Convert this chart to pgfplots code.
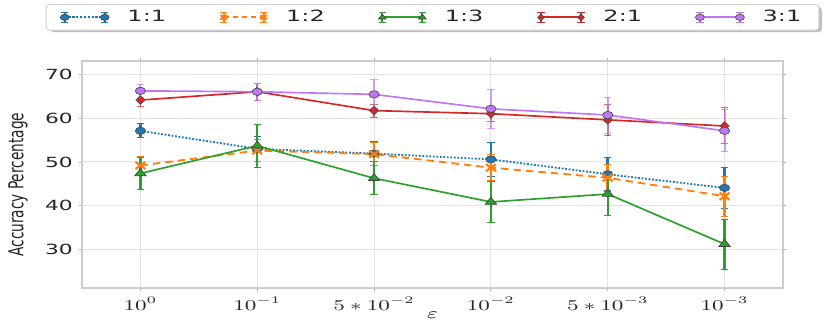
\documentclass[border=0pt]{standalone}
\usepackage{fontspec}
\setmainfont{DejaVu Sans}[FakeStretch=1.55]
\newfontfamily\labelfont{DejaVu Sans}
\usepackage{graphicx}
\usepackage{pgfplots}
\pgfplotsset{compat=1.18}

\definecolor{cblue}{HTML}{1F77B4}
\definecolor{corange}{HTML}{FF7F0E}
\definecolor{cgreen}{HTML}{2CA02C}
\definecolor{cred}{HTML}{D62728}
\definecolor{cpurple}{HTML}{BF77F6}
\definecolor{txt}{HTML}{262626}

% legend image: two markers joined by the line, with an error bar at each end
% #1 colour, #2 line style, #3 mark, #4 mark options
\pgfplotsset{
  errleg/.style n args={4}{
    legend image code/.code={
      \draw[#1, solid, line width=1.1pt] (0pt,-3.2pt) -- (0pt,3.2pt) (24pt,-3.2pt) -- (24pt,3.2pt);
      \draw[#1, solid, line width=0.6pt] (-2.2pt,-3.2pt) -- (2.2pt,-3.2pt) (-2.2pt,3.2pt) -- (2.2pt,3.2pt)
        (21.8pt,-3.2pt) -- (26.2pt,-3.2pt) (21.8pt,3.2pt) -- (26.2pt,3.2pt);
      \draw[#1, line width=1.3pt, #2] (0pt,0pt) -- (24pt,0pt);
      \draw[#1] plot[only marks, mark=#3, mark size=1.9pt, mark options={solid, xscale=1.4, #4}]
        coordinates {(0pt,0pt) (24pt,0pt)};
    }
  },
  ebars/.style 2 args={
    error bars/.cd, y dir=both, y explicit,
    error bar style={line width=#1, solid, opacity=#2},
    error mark options={rotate=90, mark size=2.2pt, line width=0.6pt, solid, opacity=#2},
  },
}

\begin{document}
\begin{tikzpicture}
\useasboundingbox (-49.2pt,-23.4pt) rectangle (448.8pt,172.8pt);
\begin{axis}[
  at={(0pt,0pt)}, anchor=south west,
  scale only axis,
  width=420.6pt, height=136.2pt,
  clip=false,
  xmin=-0.5, xmax=5.5,
  ymin=21.3, ymax=73,
  xtick={0,1,2,3,4,5},
  xticklabels={
    \scalebox{1.5}[1]{$10^{0}$},
    \scalebox{1.5}[1]{$10^{-1}$},
    \scalebox{1.5}[1]{$5*10^{-2}$},
    \scalebox{1.5}[1]{$10^{-2}$},
    \scalebox{1.5}[1]{$5*10^{-3}$},
    \scalebox{1.5}[1]{$10^{-3}$}},
  ytick={30,40,50,60,70},
  /pgf/number format/assume math mode=true,
  tick label style={font=\fontsize{8.4}{9}\selectfont, text=txt},
  x tick label style={font=\fontsize{8.8}{9}\selectfont},
  tick align=outside, tick pos=both,
  major tick length=2pt,
  every tick/.style={gray!60, line width=0.5pt},
  axis line style={gray!40, line width=0.8pt},
  grid=major,
  grid style={gray!22, line width=0.6pt},
  xlabel={\scalebox{1.5}[1]{$\varepsilon$}},
  xlabel style={at={(axis description cs:0.5,-0.122)}, anchor=center, font=\fontsize{8.8}{9}\selectfont},
  ylabel={\labelfont\scalebox{1}[1.5]{Accuracy Percentage}},
  ylabel style={at={(axis description cs:-0.0913,0.455)}, anchor=center, font=\fontsize{8.2}{9}\selectfont, text=txt},
  legend columns=5,
  legend style={
    at={(0.5,1.251)}, anchor=north,
    draw=gray!35, line width=0.6pt, rounded corners=2pt, fill=white,
    font=\fontsize{9.3}{10}\selectfont, text=txt,
    inner ysep=1.5pt, inner xsep=8.5pt,
    /tikz/every odd column/.append style={column sep=9pt},
    /tikz/every even column/.append style={column sep=30pt},
  },
  legend cell align=left,
]

% shadow under the legend box
\fill[gray!50, rounded corners=2pt] (rel axis cs:-0.0455,1.127) rectangle (rel axis cs:1.0555,1.238);

\addplot[cblue, line width=1.1pt, densely dotted, mark=*,
  errleg={cblue}{densely dotted}{*}{fill=cblue, draw=black!70, line width=0.4pt},
  mark options={solid, xscale=1.4, fill=cblue, draw=black!70, line width=0.4pt}, mark size=2.2pt,
  ebars={1.5pt}{1}]
  coordinates {(0,57.1) +- (0,1.6) (1,53.0) +- (0,2.8) (2,51.9) +- (0,2.7)
               (3,50.6) +- (0,3.9) (4,47.2) +- (0,3.8) (5,44.1) +- (0,4.6)};
\addlegendentry{1:1}

\addplot[corange, line width=1.1pt, dash pattern=on 4.5pt off 3pt, mark=x,
  errleg={corange}{dash pattern=on 3pt off 2.5pt}{x}{line width=1.2pt},
  mark options={solid, xscale=1.4, line width=1.3pt}, mark size=3pt,
  ebars={1.5pt}{1}]
  coordinates {(0,49.2) +- (0,2.0) (1,52.6) +- (0,2.5) (2,51.8) +- (0,2.7)
               (3,48.7) +- (0,2.9) (4,46.4) +- (0,3.1) (5,42.2) +- (0,4.6)};
\addlegendentry{1:2}

\addplot[cgreen, line width=1.0pt, solid, mark=triangle*,
  errleg={cgreen}{solid}{triangle*}{fill=cgreen, draw=black!75, line width=0.4pt},
  mark options={solid, xscale=1.4, fill=cgreen, draw=black!75, line width=0.4pt}, mark size=2.8pt,
  ebars={1.4pt}{1}]
  coordinates {(0,47.4) +- (0,3.6) (1,53.7) +- (0,4.9) (2,46.3) +- (0,3.8)
               (3,40.9) +- (0,4.7) (4,42.7) +- (0,5.0) (5,31.3) +- (0,5.7)};
\addlegendentry{1:3}

\addplot[cred, line width=1.0pt, solid, mark=diamond*,
  errleg={cred}{solid}{diamond*}{fill=cred, draw=black!70, line width=0.4pt},
  mark options={solid, xscale=1.4, fill=cred, draw=black!70, line width=0.4pt}, mark size=2.6pt,
  ebars={1.0pt}{0.7}]
  coordinates {(0,64.1) +- (0,1.5) (1,66.0) +- (0,1.9) (2,61.7) +- (0,1.5)
               (3,61.0) +- (0,1.7) (4,59.6) +- (0,3.6) (5,58.2) +- (0,4.1)};
\addlegendentry{2:1}

\addplot[cpurple, line width=1.0pt, solid, mark=*,
  errleg={cpurple}{solid}{*}{fill=cpurple, draw=black!70, line width=0.4pt},
  mark options={solid, xscale=1.4, fill=cpurple, draw=black!70, line width=0.4pt}, mark size=2.2pt,
  ebars={1.2pt}{0.7}]
  coordinates {(0,66.2) +- (0,1.5) (1,66.0) +- (0,1.9) (2,65.4) +- (0,3.3)
               (3,62.1) +- (0,4.4) (4,60.7) +- (0,4.1) (5,57.1) +- (0,4.8)};
\addlegendentry{3:1}

\end{axis}
\end{tikzpicture}
\end{document}
